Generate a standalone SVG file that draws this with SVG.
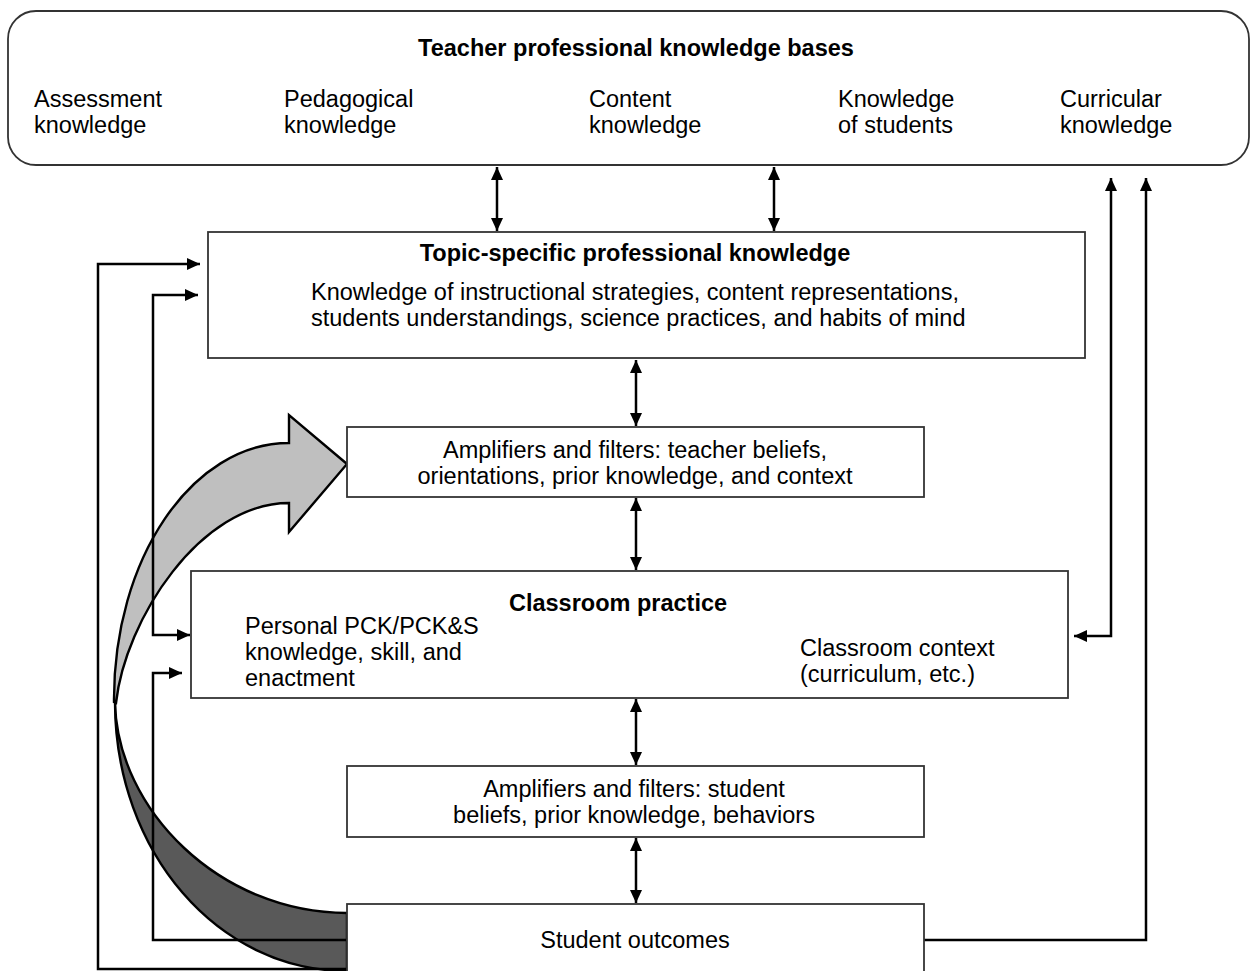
<svg xmlns="http://www.w3.org/2000/svg" width="1250" height="971" viewBox="0 0 1250 971">
<style>
.box{fill:#fff;stroke:#333;stroke-width:1.8}
.t{font-family:"Liberation Sans",Arial,sans-serif;font-size:23.5px;fill:#000}
.b{font-weight:bold}
.c{text-anchor:middle}
.ln{fill:none;stroke:#000;stroke-width:2.5}
.dot{fill:none;stroke:#000;stroke-width:1.8;stroke-dasharray:2,2}
.curve{stroke:#000;stroke-width:2.4;stroke-linejoin:miter}
</style>
<defs>
<marker id="ah" viewBox="0 0 13 12" refX="13" refY="6" markerWidth="13" markerHeight="12" markerUnits="userSpaceOnUse" orient="auto-start-reverse">
<path d="M0,0 L13,6 L0,12 z" fill="#000"/>
</marker>
</defs>
<rect width="1250" height="971" fill="#fff"/>

<g id="curved-arrow">
<path class="curve" fill="#595959" d="M115,702 C115,852 218,971 347,971 L347,913 C220,913 117,810 115,702 Z"/>
<path class="curve" fill="#bfbfbf" d="M114,702 C113,559 192,443 289,443 L289,415 L347,464 L289,532 L289,503 C200,503 125,620 116,703 Z"/>
</g>

<g id="connectors">
<path class="ln" d="M497,167 V231" marker-start="url(#ah)" marker-end="url(#ah)"/>
<path class="ln" d="M774,167 V231" marker-start="url(#ah)" marker-end="url(#ah)"/>
<path class="ln" d="M636,360 V426" marker-start="url(#ah)" marker-end="url(#ah)"/>
<path class="ln" d="M636,498 V570" marker-start="url(#ah)" marker-end="url(#ah)"/>
<path class="ln" d="M636,699 V765" marker-start="url(#ah)" marker-end="url(#ah)"/>
<path class="ln" d="M636,838 V903" marker-start="url(#ah)" marker-end="url(#ah)"/>
<path class="ln" d="M347,969 H98 V264 H200" marker-end="url(#ah)"/>
<path class="ln" d="M198,295 H153 V635 H190" marker-start="url(#ah)" marker-end="url(#ah)"/>
<path class="ln" d="M347,940 H153 V673 H182" marker-end="url(#ah)"/>
<path class="ln" d="M1074,636 H1111 V178" marker-start="url(#ah)" marker-end="url(#ah)"/>
<path class="ln" d="M924,940 H1146 V178" marker-end="url(#ah)"/>
<path class="ln" d="M586,655 H687" marker-start="url(#ah)" marker-end="url(#ah)"/>
<path class="dot" d="M636,626 V681"/>
</g>

<g id="knowledge-bases">
<rect class="box" x="8" y="11" width="1241" height="154" rx="28"/>
<text class="t b c" x="636" y="56">Teacher professional knowledge bases</text>
<text class="t" x="34" y="107">Assessment</text>
<text class="t" x="34" y="133">knowledge</text>
<text class="t" x="284" y="107">Pedagogical</text>
<text class="t" x="284" y="133">knowledge</text>
<text class="t" x="589" y="107">Content</text>
<text class="t" x="589" y="133">knowledge</text>
<text class="t" x="838" y="107">Knowledge</text>
<text class="t" x="838" y="133">of students</text>
<text class="t" x="1060" y="107">Curricular</text>
<text class="t" x="1060" y="133">knowledge</text>
</g>

<g id="topic-specific">
<rect class="box" x="208" y="232" width="877" height="126"/>
<text class="t b c" x="635" y="261">Topic-specific professional knowledge</text>
<text class="t" x="311" y="300">Knowledge of instructional strategies, content representations,</text>
<text class="t" x="311" y="326">students understandings, science practices, and habits of mind</text>
</g>

<g id="teacher-filters">
<rect class="box" x="347" y="427" width="577" height="70"/>
<text class="t c" x="635" y="458">Amplifiers and filters: teacher beliefs,</text>
<text class="t c" x="635" y="484">orientations, prior knowledge, and context</text>
</g>

<g id="classroom-practice">
<rect class="box" x="191" y="571" width="877" height="127"/>
<text class="t b c" x="618" y="611">Classroom practice</text>
<text class="t" x="245" y="634">Personal PCK/PCK&amp;S</text>
<text class="t" x="245" y="660">knowledge, skill, and</text>
<text class="t" x="245" y="686">enactment</text>
<text class="t" x="800" y="656">Classroom context</text>
<text class="t" x="800" y="682">(curriculum, etc.)</text>
</g>

<g id="student-filters">
<rect class="box" x="347" y="766" width="577" height="71"/>
<text class="t c" x="634" y="797">Amplifiers and filters: student</text>
<text class="t c" x="634" y="823">beliefs, prior knowledge, behaviors</text>
</g>

<g id="student-outcomes">
<rect class="box" x="347" y="904" width="577" height="80"/>
<text class="t c" x="635" y="948">Student outcomes</text>
</g>
</svg>
